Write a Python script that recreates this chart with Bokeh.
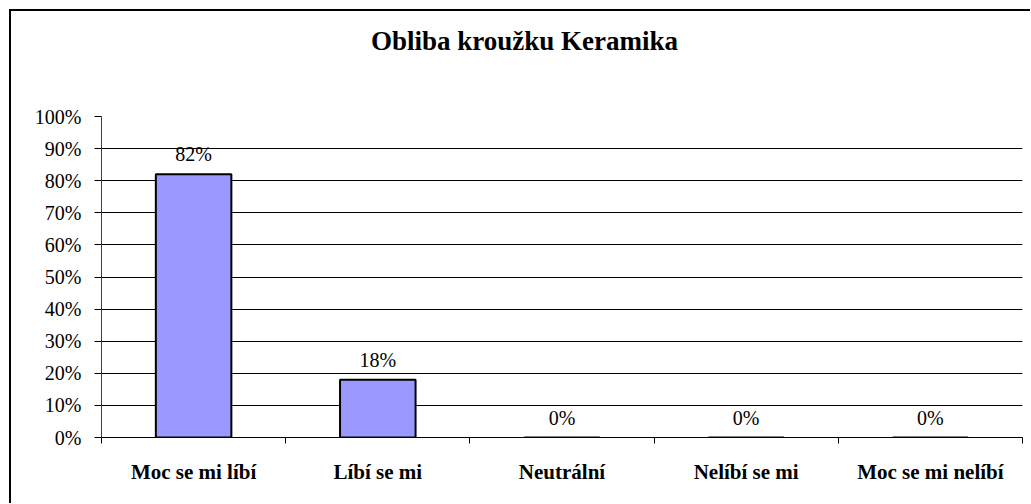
from bokeh.plotting import figure
from bokeh.models import FixedTicker, NumeralTickFormatter, ColumnDataSource, Div
from bokeh.layouts import column
from bokeh.core.properties import value
from bokeh.embed import file_html
from bokeh.resources import INLINE

# ---- data ----
categories = ["Moc se mi líbí", "Líbí se mi", "Neutrální", "Nelíbí se mi", "Moc se mi nelíbí"]
shares = [0.82, 0.18, 0.0, 0.0, 0.0]
share_labels = ["82%", "18%", "0%", "0%", "0%"]
y_ticks = [0.0, 0.1, 0.2, 0.3, 0.4, 0.5, 0.6, 0.7, 0.8, 0.9, 1.0]
title_text = "Obliba kroužku Keramika"

n = len(categories)
centers = [i + 0.5 for i in range(n)]
bounds = [float(i) for i in range(n + 1)]

src = ColumnDataSource(dict(x=centers, top=shares, lab=share_labels))

SERIF = "Liberation Serif"

title_div = Div(text='<span style="position:relative; top:14px; left:4px;">' + title_text + '</span>',
                width=1019, height=50,
                styles={"font-family": SERIF, "font-size": "27px", "font-weight": "bold",
                        "color": "black", "text-align": "center", "line-height": "32px",
                        "padding": "0px", "margin": "0px", "background": "white"})

p = figure(width=1019, height=442, x_range=(0, n), y_range=(0, 1),
           output_backend="svg", toolbar_location=None,
           min_border_left=90, min_border_right=8, min_border_top=55, min_border_bottom=66)
p.outline_line_color = None
p.background_fill_color = "white"
p.border_fill_color = "white"

p.vbar(x="x", top="top", width=0.41, bottom=0, source=src,
       fill_color="#9999FF", line_color="black", line_width=2)

p.text(x="x", y="top", text="lab", source=src, text_align="center",
       text_baseline="alphabetic", y_offset=-20,
       text_font=value(SERIF), text_font_size="20px", text_color="black")

# x axis: labels at centres, ticks at boundaries (minor ticks)
xa = p.xaxis[0]
xa.ticker = FixedTicker(ticks=centers, minor_ticks=bounds)
xa.major_label_overrides = {c: lab for c, lab in zip(centers, categories)}
xa.major_tick_out = 0
xa.major_tick_in = 0
xa.minor_tick_out = 6
xa.minor_tick_in = 0
xa.minor_tick_line_color = "black"
xa.axis_line_color = "black"
xa.major_label_standoff = 16
xa.major_label_text_font = SERIF
xa.major_label_text_font_size = "21px"
xa.major_label_text_font_style = "bold"
xa.major_label_text_color = "black"

ya = p.yaxis[0]
ya.ticker = FixedTicker(ticks=y_ticks, minor_ticks=[])
ya.formatter = NumeralTickFormatter(format="0%")
ya.major_tick_out = 7
ya.major_tick_in = 0
ya.major_tick_line_color = "black"
ya.axis_line_color = "#404040"
ya.major_label_standoff = 13
ya.major_label_text_font = SERIF
ya.major_label_text_font_size = "20px"
ya.major_label_text_color = "black"

p.xgrid.grid_line_color = None
p.ygrid.ticker = FixedTicker(ticks=y_ticks)
p.ygrid.grid_line_color = "black"
p.ygrid.grid_line_width = 1

layout = column(title_div, p, spacing=0,
                styles={"border-top": "2px solid black", "border-left": "2px solid black",
                        "position": "relative", "top": "9px", "left": "9px",
                        "background": "white"})

open("out.html", "w").write(file_html(layout, INLINE))
